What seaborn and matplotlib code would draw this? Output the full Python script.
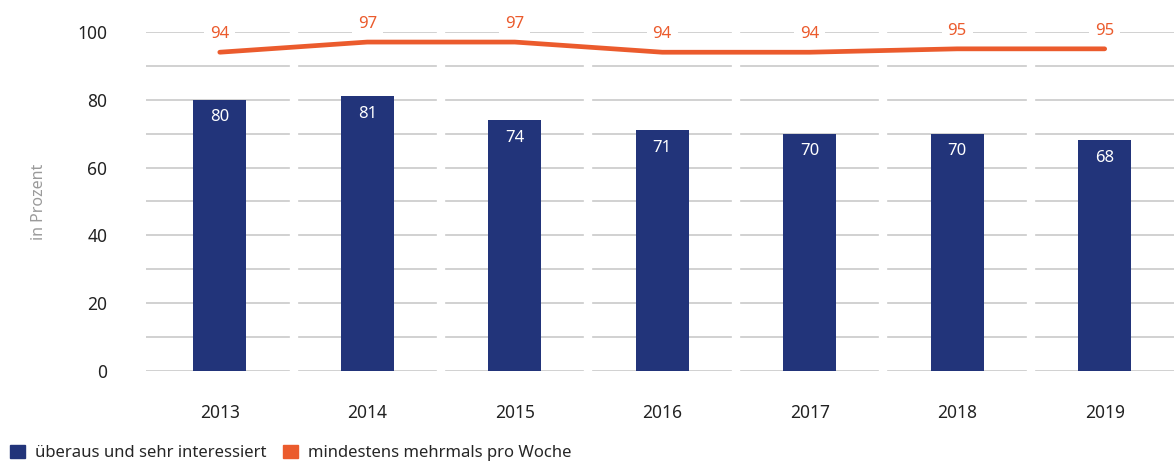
import numpy as np
import pandas as pd
import matplotlib
matplotlib.use("Agg")
import matplotlib.pyplot as plt
import seaborn as sns
from matplotlib.patches import Patch

years = ["2013", "2014", "2015", "2016", "2017", "2018", "2019"]
interessiert = [80, 81, 74, 71, 70, 70, 68]
mehrmals = [94, 97, 97, 94, 94, 95, 95]

navy = "#22347A"
orange = "#EB5B2D"

sns.set_theme(style="white")
plt.rcParams["font.family"] = ["Noto Sans", "DejaVu Sans"]

df = pd.DataFrame({"Jahr": years, "interessiert": interessiert, "mehrmals": mehrmals})
df["pos"] = np.arange(len(df))

fig = plt.figure(figsize=(11.74, 4.62), dpi=100)
ax = fig.add_axes([0.1244, 0.197, 0.8756, 0.734])

# gridlines, broken at the category borders
for v in range(0, 101, 10):
    ax.axhline(v, color="#c9c9c9", lw=1.2, zorder=0)
for b in np.arange(len(years) - 1) + 0.5:
    ax.axvline(b, color="white", lw=6, zorder=0.5)

sns.barplot(data=df, x="Jahr", y="interessiert", color=navy, width=0.36,
            saturation=1, linewidth=0, ax=ax, zorder=2)
sns.lineplot(data=df, x="pos", y="mehrmals", color=orange, lw=3.4, ax=ax,
             zorder=3, clip_on=False)

for i, v in enumerate(interessiert):
    ax.annotate(str(v), (i, v), xytext=(0, -7), textcoords="offset points",
                ha="center", va="top", color="white", fontsize=12, zorder=4)
for i, v in enumerate(mehrmals):
    ax.annotate(str(v), (i, v), xytext=(0, 13), textcoords="offset points",
                ha="center", va="center", color=orange, fontsize=12, zorder=4,
                bbox=dict(boxstyle="square,pad=0.35", fc="white", ec="none"),
                annotation_clip=False)

ax.set_xlim(-0.5, 6.47)
ax.set_ylim(0, 100)
ax.set_yticks(range(0, 101, 20))
ax.tick_params(axis="y", labelsize=12.5, colors="#222222", pad=28, length=0)
ax.tick_params(axis="x", labelsize=12.5, colors="#222222", pad=24, length=0)
ax.set_xlabel("")
ax.set_ylabel("in Prozent", color="#9a9a9a", fontsize=11.5, labelpad=22)
for s in ax.spines.values():
    s.set_visible(False)

handles = [Patch(color=navy, label="überaus und sehr interessiert"),
           Patch(color=orange, label="mindestens mehrmals pro Woche")]
fig.legend(handles=handles, loc="lower left", bbox_to_anchor=(0.0, -0.02),
           ncol=2, frameon=False, fontsize=12, handlelength=0.9, handleheight=0.9,
           handletextpad=0.6, columnspacing=1.0, borderaxespad=0.2)

fig.savefig("out.png", dpi=100)
